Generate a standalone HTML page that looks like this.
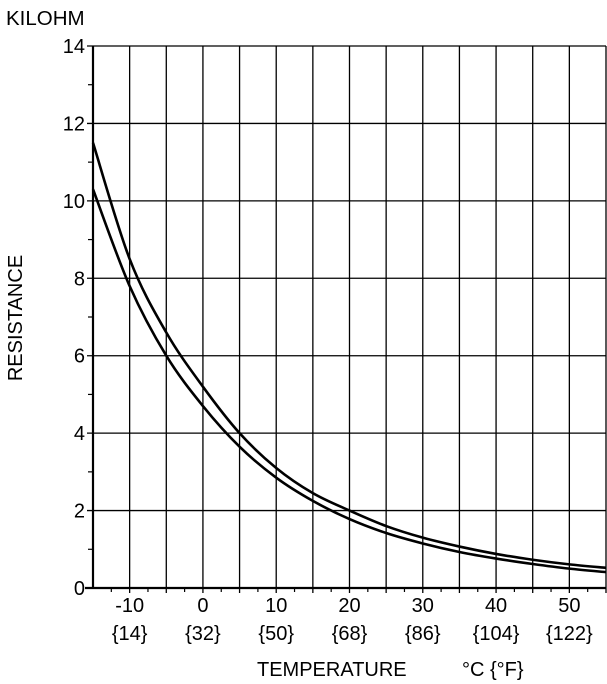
<!DOCTYPE html>
<html><head><meta charset="utf-8"><style>
body{margin:0;background:#fff}
svg{display:block;font-family:"Liberation Sans",Arial,sans-serif}
</style></head><body>
<svg id="s" width="607" height="684" viewBox="0 0 607 684" xmlns="http://www.w3.org/2000/svg">
<text x="6" y="25" font-size="20.5">KILOHM</text>
<text transform="translate(22,318) rotate(-90)" font-size="20" text-anchor="middle">RESISTANCE</text>
<text x="257" y="676" font-size="20">TEMPERATURE</text>
<text x="462" y="676" font-size="20">°C {°F}</text>
<g id="g" stroke="#000" fill="none"></g>
<g id="t" font-size="20"></g>
</svg>
<script>
var L=93,R=606,T=46,B=588;
function X(t){return L+(t+15)*(R-L)/70;}
function Y(v){return B-v*(B-T)/14;}
var g=document.getElementById('g'),tg=document.getElementById('t'),h='',th='';
for(var v=2;v<=14;v+=2){h+='<line x1="'+(L-6)+'" y1="'+Y(v)+'" x2="'+R+'" y2="'+Y(v)+'" stroke-width="1.3"/>';}
for(var v=1;v<14;v+=2){h+='<line x1="'+(L-5)+'" y1="'+Y(v)+'" x2="'+L+'" y2="'+Y(v)+'" stroke-width="1.2"/>';}
for(var t=-10;t<=55;t+=5){h+='<line x1="'+X(t)+'" y1="'+T+'" x2="'+X(t)+'" y2="'+(B+5)+'" stroke-width="1.3"/>';}
for(var t=-12.5;t<55;t+=5){h+='<line x1="'+X(t)+'" y1="'+B+'" x2="'+X(t)+'" y2="'+(B+4)+'" stroke-width="1.2"/>';}
h+='<line x1="'+L+'" y1="'+T+'" x2="'+L+'" y2="'+B+'" stroke-width="2.2"/>';
h+='<line x1="'+(L-8)+'" y1="'+B+'" x2="'+R+'" y2="'+B+'" stroke-width="2.2"/>';
var up=[11.5,8.5,6.6,5.2,4.0,3.1,2.45,2.0,1.6,1.3,1.07,0.88,0.73,0.61,0.52];
var lo=[10.3,7.8,6.0,4.7,3.65,2.85,2.25,1.78,1.42,1.15,0.93,0.76,0.62,0.5,0.41];
function path(a){
 var p=a.map(function(v,i){return [X(-15+5*i),Y(v)];});
 var d='M'+p[0][0]+','+p[0][1];
 for(var i=0;i<p.length-1;i++){
  var p0=p[Math.max(0,i-1)],p1=p[i],p2=p[i+1],p3=p[Math.min(p.length-1,i+2)];
  var c1=[p1[0]+(p2[0]-p0[0])/6,p1[1]+(p2[1]-p0[1])/6];
  var c2=[p2[0]-(p3[0]-p1[0])/6,p2[1]-(p3[1]-p1[1])/6];
  d+=' C'+c1[0]+','+c1[1]+' '+c2[0]+','+c2[1]+' '+p2[0]+','+p2[1];
 }
 return '<path d="'+d+'" stroke-width="2.6"/>';
}
h+=path(up)+path(lo);
g.innerHTML=h;
for(var v=0;v<=14;v+=2){th+='<text x="85" y="'+(Y(v)+7)+'" text-anchor="end">'+v+'</text>';}
var f={'-10':'{14}','0':'{32}','10':'{50}','20':'{68}','30':'{86}','40':'{104}','50':'{122}'};
for(var t=-10;t<=50;t+=10){th+='<text x="'+X(t)+'" y="612" text-anchor="middle">'+t+'</text><text x="'+X(t)+'" y="640" text-anchor="middle">'+f[t]+'</text>';}
tg.innerHTML=th;
</script>
</body></html>
